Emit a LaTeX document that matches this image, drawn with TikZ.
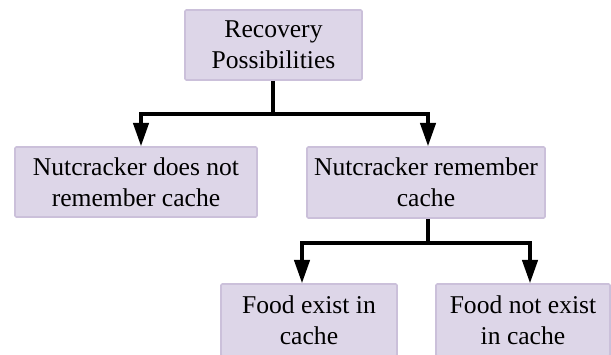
\documentclass[tikz,border=0pt]{standalone}
\usepackage{fontspec}
\setmainfont{Liberation Serif}
\newfontfamily\boxfont{Liberation Serif}
\usetikzlibrary{arrows.meta}
\definecolor{boxfill}{RGB}{221,214,232}
\definecolor{boxline}{RGB}{203,192,218}
\tikzset{
  box/.style={draw=boxline, fill=boxfill, line width=1.2pt, rounded corners=1pt,
    align=center, inner sep=0pt, font=\boxfont\fontsize{19.2pt}{23.25pt}\selectfont},
  conn/.style={line width=2.6pt, draw=black},
  arr/.style={conn, -{Triangle[width=11.5pt,length=17.5pt]}}
}
\begin{document}
\begin{tikzpicture}[x=0.75pt,y=-0.75pt]
\useasboundingbox (0,0) rectangle (611,354);
\node[box, minimum width=177*0.75pt, minimum height=70*0.75pt] (b1) at (273.5,45) {Recovery\\Possibilities};
\node[box, minimum width=242*0.75pt, minimum height=70*0.75pt] (b2) at (136,182) {Nutcracker does not\\remember cache};
\node[box, minimum width=238*0.75pt, minimum height=71*0.75pt] (b3) at (426,182.5) {Nutcracker remember\\cache};
\node[box, minimum width=176*0.75pt, minimum height=72*0.75pt] (b4) at (309,320) {Food exist in\\cache};
\node[box, minimum width=174*0.75pt, minimum height=72*0.75pt] (b5) at (523,320) {Food not exist\\in cache};
\coordinate (j1) at (273,114);
\coordinate (l1) at (141,114);
\coordinate (r1) at (428,114);
\coordinate (j2) at (428,243);
\coordinate (l2) at (302,243);
\coordinate (r2) at (530,243);
\draw[conn] (b1.south -| j1) -- (j1);
\draw[arr] (j1) -- (r1) -- (r1 |- b3.north);
\draw[arr] (j1) -- (l1) -- (l1 |- b2.north);
\draw[conn] (b3.south -| j2) -- (j2);
\draw[arr] (j2) -- (l2) -- (l2 |- b4.north);
\draw[arr] (j2) -- (r2) -- (r2 |- b5.north);
\end{tikzpicture}
\end{document}
